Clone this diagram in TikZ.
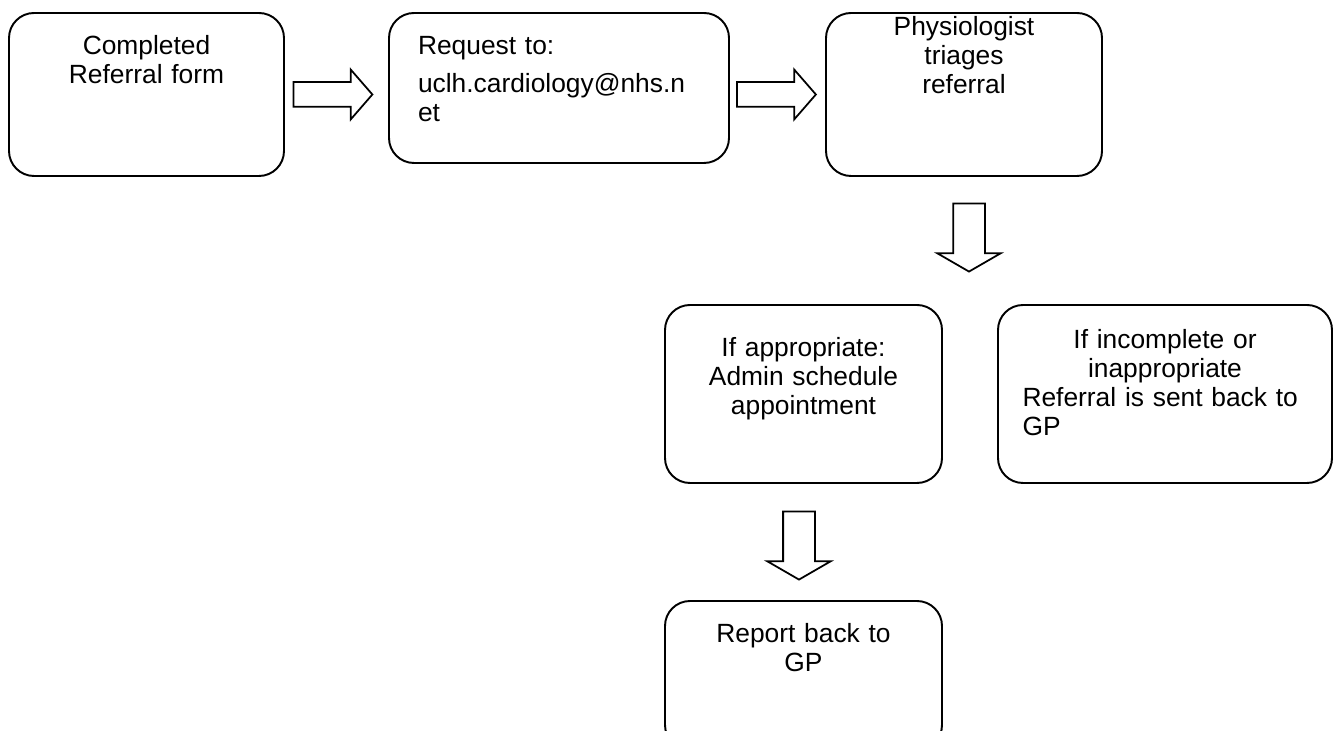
\documentclass[tikz,border=0pt]{standalone}
\usepackage{fontspec}
\setmainfont{Liberation Sans}
\usepackage{tikz}
\usetikzlibrary{shapes,arrows,positioning}

\begin{document}
\begin{tikzpicture}[node distance=1.5cm, auto]
    % Define styles
    \tikzstyle{roundbox} = [rectangle, rounded corners=0.5cm, inner sep=0pt, draw=black, line width=1.1pt, font=\fontsize{15}{16.5}\selectfont]
    \tikzstyle{fatarrow} = [single arrow, draw=black, line width=1pt, inner xsep=0pt, inner ysep=0.23cm, minimum height=1.58cm, minimum width=0.96cm, single arrow head extend=0.25cm, single arrow tip angle=98]
    \tikzstyle{fatdown} = [single arrow, draw=black, line width=1pt, inner xsep=0.3cm, inner ysep=0pt, minimum height=1.36cm, minimum width=1.24cm, single arrow head extend=0.32cm, single arrow tip angle=120, shape border rotate=270]

    \path[use as bounding box, clip] (0,0) rectangle (26.66,-14.62);

    % Nodes
    \node[roundbox, align=center, text width=5.5cm, text height=0.84cm, text depth=2.42cm] (completed) at (2.93,-1.89) {Completed\\ Referral form};
    \node[fatarrow, right of=completed, xshift=2.12cm] (arrow1) {};
    \node[roundbox, align=left, text width=5.64cm, inner xsep=0.58cm, text height=0.84cm, text depth=2.16cm, right of=arrow1, xshift=3.13cm, yshift=0.13cm] (request) {Request to:\\[0.18cm] uclh.cardiology@nhs.n\\ et};
    \node[fatarrow, right of=request, xshift=2.74cm, yshift=-0.13cm] (arrow2) {};
    \node[roundbox, align=center, text width=5.52cm, text height=0.46cm, text depth=2.8cm, right of=arrow2, xshift=2.36cm] (triages) {Physiologist\\ triages\\ referral};
    \node[fatdown, below of=triages, xshift=0.1cm, yshift=-1.27cm] (arrow3) {};
    \node[roundbox, align=center, text width=5.54cm, text height=1.04cm, text depth=2.52cm, below of=arrow3, xshift=-3.31cm, yshift=-1.72cm] (appropriate) {If appropriate:\\ Admin schedule\\ appointment};
    \node[roundbox, align=left, text width=5.7cm, inner xsep=0.49cm, text height=0.88cm, text depth=2.68cm, right of=appropriate, xshift=5.73cm] (incomplete) {{\centering If incomplete or\\ inappropriate\par}Referral is sent back to\\ GP};
    \node[fatdown, below of=appropriate, xshift=-0.09cm, yshift=-1.44cm] (arrow4) {};
    \node[roundbox, align=center, text width=5.54cm, text height=0.84cm, text depth=2.14cm, below of=arrow4, xshift=0.09cm, yshift=-1.19cm] (report) {Report back to\\ GP};
\end{tikzpicture}
\end{document}
